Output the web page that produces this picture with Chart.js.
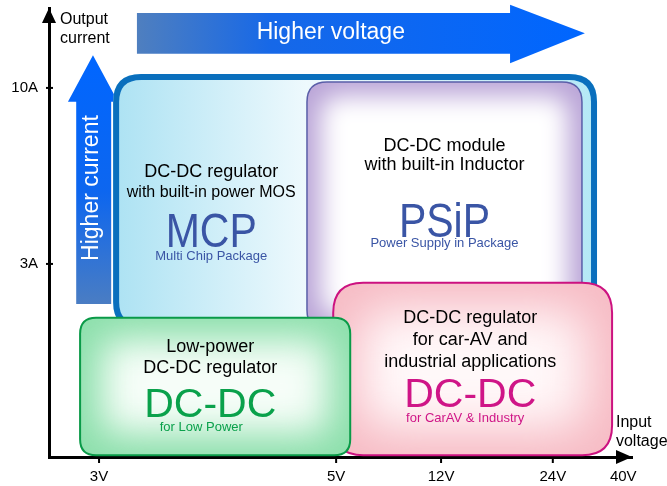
<!DOCTYPE html>
<html>
<head>
<meta charset="utf-8">
<script src="https://cdn.jsdelivr.net/npm/chart.js@4.4.1/dist/chart.umd.min.js"></script>
<style>
  html, body { margin: 0; padding: 0; background: #fff; }
  #wrap { width: 667px; height: 486px; }
</style>
</head>
<body>
<div id="wrap"><canvas id="chart" width="667" height="486"></canvas></div>
<script>
// positions are in chart units: x runs 0..120 along the voltage axis, y 0..100 along current
const xTickValues = [10.3, 59.1, 80.7, 103.7, 118.2]
const xTickLabels = ['3V', '5V', '12V', '24V', '40V']
const yTickValues = [43.0, 82.2]
const yTickLabels = ['3A', '10A']

// product regions, back to front
const regionNames = ['MCP', 'PSiP', 'CarAV', 'LowPower']
const regionX = [[13.2, 112.8], [53.1, 109.7], [58.5, 115.9], [6.4, 62.0]]
const regionY = [[28.3, 85.3], [28.3, 83.5], [0.4, 38.8], [0.4, 31.0]]
const regionTextX = [33.4, 81.4, 86.7, 33.2]

const mcpLines = ['DC-DC regulator', 'with built-in power MOS', 'MCP', 'Multi Chip Package']
const mcpLineY = [62.4, 57.9, 46.8, 43.9]
const psipLines = ['DC-DC module', 'with built-in Inductor', 'PSiP', 'Power Supply in Package']
const psipLineY = [68.2, 63.9, 49.0, 46.8]
const carLines = ['DC-DC regulator', 'for car-AV and', 'industrial applications', 'DC-DC', 'for CarAV & Industry']
const carLineY = [29.8, 24.9, 20.0, 11.1, 7.8]
const lowLines = ['Low-power', 'DC-DC regulator', 'DC-DC', 'for Low Power']
const lowLineY = [23.4, 18.7, 8.9, 5.8]

// "Higher ..." arrows
const voltArrowX = [18.1, 94.9, 110.3]   // shaft start, head base, tip
const voltArrowY = [89.8, 98.9, 87.7, 100.7]  // shaft bottom/top, head bottom/top
const currArrowX = [5.6, 12.8, 3.9, 14.2]   // shaft left/right, head left/right
const currArrowY = [34.1, 79.1, 89.5]   // shaft bottom, head base, tip

const FONT = "'Liberation Sans', Arial, sans-serif"
Chart.defaults.font.family = FONT

const regionLines = [mcpLines, psipLines, carLines, lowLines]
const regionLineY = [mcpLineY, psipLineY, carLineY, lowLineY]

const regionStyle = {
  MCP: { border: '#0a6fbd', width: 6, radius: 28, accent: '#3a55a5', stretch: 1.15,
         kinds: ['d18', 'd16', 'big', 'small'], smallDx: 0 },
  PSiP: { border: '#5a5ea8', width: 1.5, radius: 20, accent: '#3a55a5', stretch: 1.15,
          edge: '#bba6d8', center: '#ffffff', inset: 14, blur: 12,
          kinds: ['d18', 'd18', 'big', 'small'], smallDx: 0 },
  CarAV: { border: '#cc1280', width: 2, radius: 30, accent: '#cf1587', stretch: 1,
           edge: '#f7bcc5', center: '#fff8f9', inset: 26, blur: 24,
           kinds: ['d18', 'd18', 'd18', 'big', 'small'], smallDx: -5 },
  LowPower: { border: '#0a9a48', width: 2, radius: 16, accent: '#0aa14b', stretch: 1,
              edge: '#8ee0ad', center: '#f6fdf8', inset: 22, blur: 18,
              kinds: ['d18', 'd18', 'big', 'small'], smallDx: -9 }
}

function roundRectPath(ctx, x, y, w, h, r) {
  ctx.beginPath()
  ctx.moveTo(x + r, y)
  ctx.lineTo(x + w - r, y)
  ctx.quadraticCurveTo(x + w, y, x + w, y + r)
  ctx.lineTo(x + w, y + h - r)
  ctx.quadraticCurveTo(x + w, y + h, x + w - r, y + h)
  ctx.lineTo(x + r, y + h)
  ctx.quadraticCurveTo(x, y + h, x, y + h - r)
  ctx.lineTo(x, y + r)
  ctx.quadraticCurveTo(x, y, x + r, y)
  ctx.closePath()
}

function drawArrows(ctx, xs, ys) {
  // horizontal "Higher voltage"
  const x0 = xs.getPixelForValue(voltArrowX[0]), x1 = xs.getPixelForValue(voltArrowX[1]), x2 = xs.getPixelForValue(voltArrowX[2])
  const sb = ys.getPixelForValue(voltArrowY[0]), st = ys.getPixelForValue(voltArrowY[1])
  const hb = ys.getPixelForValue(voltArrowY[2]), ht = ys.getPixelForValue(voltArrowY[3])
  let g = ctx.createLinearGradient(x0, 0, x2, 0)
  g.addColorStop(0, '#4f7fbf')
  g.addColorStop(0.3, '#1668e8')
  g.addColorStop(1, '#0066ff')
  ctx.fillStyle = g
  ctx.beginPath()
  ctx.moveTo(x0, st); ctx.lineTo(x1, st); ctx.lineTo(x1, ht); ctx.lineTo(x2, (st + sb) / 2)
  ctx.lineTo(x1, hb); ctx.lineTo(x1, sb); ctx.lineTo(x0, sb); ctx.closePath()
  ctx.fill()
  ctx.fillStyle = '#fff'
  ctx.font = '23px ' + FONT
  ctx.textAlign = 'center'
  ctx.textBaseline = 'middle'
  ctx.fillText('Higher voltage', xs.getPixelForValue(58.0), (st + sb) / 2 - 1)

  // vertical "Higher current"
  const l = xs.getPixelForValue(currArrowX[0]), r = xs.getPixelForValue(currArrowX[1])
  const hl = xs.getPixelForValue(currArrowX[2]), hr = xs.getPixelForValue(currArrowX[3])
  const bot = ys.getPixelForValue(currArrowY[0]), base = ys.getPixelForValue(currArrowY[1]), tip = ys.getPixelForValue(currArrowY[2])
  g = ctx.createLinearGradient(0, tip, 0, bot)
  g.addColorStop(0, '#0066ff')
  g.addColorStop(0.55, '#0d66ef')
  g.addColorStop(1, '#4a7dc3')
  ctx.fillStyle = g
  ctx.beginPath()
  ctx.moveTo(l, bot); ctx.lineTo(l, base); ctx.lineTo(hl, base); ctx.lineTo((hl + hr) / 2, tip)
  ctx.lineTo(hr, base); ctx.lineTo(r, base); ctx.lineTo(r, bot); ctx.closePath()
  ctx.fill()
  ctx.save()
  ctx.translate(xs.getPixelForValue(8.85), ys.getPixelForValue(59.9))
  ctx.rotate(-Math.PI / 2)
  ctx.fillStyle = '#fff'
  ctx.fillText('Higher current', 0, 0)
  ctx.restore()
}

function drawRegion(ctx, xs, ys, i) {
  const st = regionStyle[regionNames[i]]
  const x = xs.getPixelForValue(regionX[i][0])
  const w = xs.getPixelForValue(regionX[i][1]) - x
  const y = ys.getPixelForValue(regionY[i][1])
  const h = ys.getPixelForValue(regionY[i][0]) - y
  ctx.save()
  if (regionNames[i] === 'MCP') {
    const g = ctx.createLinearGradient(x, 0, x + w, 0)
    g.addColorStop(0, '#ace2f3')
    g.addColorStop(0.4, '#eef9fd')
    g.addColorStop(0.75, '#cdeff9')
    g.addColorStop(1, '#b4e8f6')
    ctx.fillStyle = g
    roundRectPath(ctx, x, y, w, h, st.radius)
    ctx.fill()
    ctx.lineWidth = st.width
    ctx.strokeStyle = st.border
    const hw = st.width / 2
    roundRectPath(ctx, x + hw, y + hw, w - st.width, h - st.width, st.radius - hw)
    ctx.stroke()
  } else {
    roundRectPath(ctx, x, y, w, h, st.radius)
    ctx.save()
    ctx.clip()
    ctx.fillStyle = st.edge
    ctx.fillRect(x, y, w, h)
    ctx.filter = 'blur(' + st.blur + 'px)'
    ctx.fillStyle = st.center
    roundRectPath(ctx, x + st.inset, y + st.inset, w - 2 * st.inset, h - 2 * st.inset, st.radius)
    ctx.fill()
    ctx.restore()
    ctx.lineWidth = st.width
    ctx.strokeStyle = st.border
    roundRectPath(ctx, x, y, w, h, st.radius)
    ctx.stroke()
  }
  ctx.restore()
}

function drawRegionText(ctx, xs, ys, i) {
  const st = regionStyle[regionNames[i]]
  const cx = xs.getPixelForValue(regionTextX[i])
  ctx.textAlign = 'center'
  ctx.textBaseline = 'alphabetic'
  regionLines[i].forEach((text, j) => {
    const kind = st.kinds[j]
    const y = ys.getPixelForValue(regionLineY[i][j])
    if (kind === 'big') {
      ctx.save()
      ctx.fillStyle = st.accent
      ctx.font = '41px ' + FONT
      ctx.translate(cx, y)
      ctx.scale(1, st.stretch)
      ctx.fillText(text, 0, 0)
      ctx.restore()
    } else if (kind === 'small') {
      ctx.fillStyle = st.accent
      ctx.font = '13px ' + FONT
      ctx.fillText(text, cx + st.smallDx, y)
    } else {
      ctx.fillStyle = '#000'
      ctx.font = (kind === 'd16' ? '16px ' : '18px ') + FONT
      ctx.fillText(text, cx, y)
    }
  })
}

const diagramPlugin = {
  id: 'diagram',
  beforeDatasetsDraw(chart) {
    const { ctx, scales: { x: xs, y: ys } } = chart
    ctx.save()
    drawArrows(ctx, xs, ys)
    for (let i = 0; i < regionNames.length; i++) drawRegion(ctx, xs, ys, i)
    for (let i = 0; i < regionNames.length; i++) drawRegionText(ctx, xs, ys, i)
    ctx.restore()
  },
  afterDraw(chart) {
    const { ctx, chartArea: a, scales: { x: xs, y: ys } } = chart
    ctx.save()
    ctx.fillStyle = '#000'
    ctx.strokeStyle = '#000'
    // axis arrowheads
    ctx.beginPath()
    ctx.moveTo(a.left, a.top); ctx.lineTo(a.left - 7, a.top + 15); ctx.lineTo(a.left + 7, a.top + 15)
    ctx.closePath(); ctx.fill()
    ctx.beginPath()
    ctx.moveTo(a.right, a.bottom); ctx.lineTo(a.right - 16, a.bottom - 7); ctx.lineTo(a.right - 16, a.bottom + 7)
    ctx.closePath(); ctx.fill()
    // tick marks
    ctx.lineWidth = 2
    xs.ticks.forEach(t => {
      const px = xs.getPixelForValue(t.value)
      if (px > a.right - 18) return
      ctx.beginPath(); ctx.moveTo(px, a.bottom); ctx.lineTo(px, a.bottom + 6); ctx.stroke()
    })
    ys.ticks.forEach(t => {
      const py = ys.getPixelForValue(t.value)
      ctx.beginPath(); ctx.moveTo(a.left - 3, py); ctx.lineTo(a.left + 4, py); ctx.stroke()
    })
    // axis titles
    ctx.font = '16px ' + FONT
    ctx.textAlign = 'left'
    ctx.textBaseline = 'alphabetic'
    ctx.fillText('Output', xs.getPixelForValue(2.26), ys.getPixelForValue(96.4))
    ctx.fillText('current', xs.getPixelForValue(2.26), ys.getPixelForValue(92.2))
    ctx.fillText('Input', xs.getPixelForValue(116.7), ys.getPixelForValue(6.7))
    ctx.fillText('voltage', xs.getPixelForValue(116.7), ys.getPixelForValue(2.4))
    ctx.restore()
  }
}

new Chart(document.getElementById('chart'), {
  type: 'scatter',
  data: { datasets: [] },
  options: {
    responsive: false,
    animation: false,
    events: [],
    layout: { padding: { top: 8, right: 35, left: 0, bottom: 0 } },
    plugins: { legend: { display: false }, tooltip: { enabled: false } },
    scales: {
      x: {
        type: 'linear', min: 0, max: 120,
        afterBuildTicks: s => { s.ticks = xTickValues.map(v => ({ value: v })) },
        afterFit: s => { s.height = 29; s.paddingLeft = 0; s.paddingRight = 0 },
        ticks: {
          autoSkip: false, maxRotation: 0, padding: 3, color: '#000',
          font: { size: 15 },
          callback: (v, i) => xTickLabels[i]
        },
        grid: { display: false },
        border: { display: true, color: '#000', width: 3 }
      },
      y: {
        type: 'linear', min: 0, max: 100,
        afterBuildTicks: s => { s.ticks = yTickValues.map(v => ({ value: v })) },
        afterFit: s => { s.width = 49; s.paddingTop = 0; s.paddingBottom = 0 },
        ticks: {
          autoSkip: false, padding: 3, color: '#000',
          font: { size: 15 },
          callback: (v, i) => yTickLabels[i]
        },
        grid: { display: false },
        border: { display: true, color: '#000', width: 3 }
      }
    }
  },
  plugins: [diagramPlugin]
})
</script>
</body>
</html>
